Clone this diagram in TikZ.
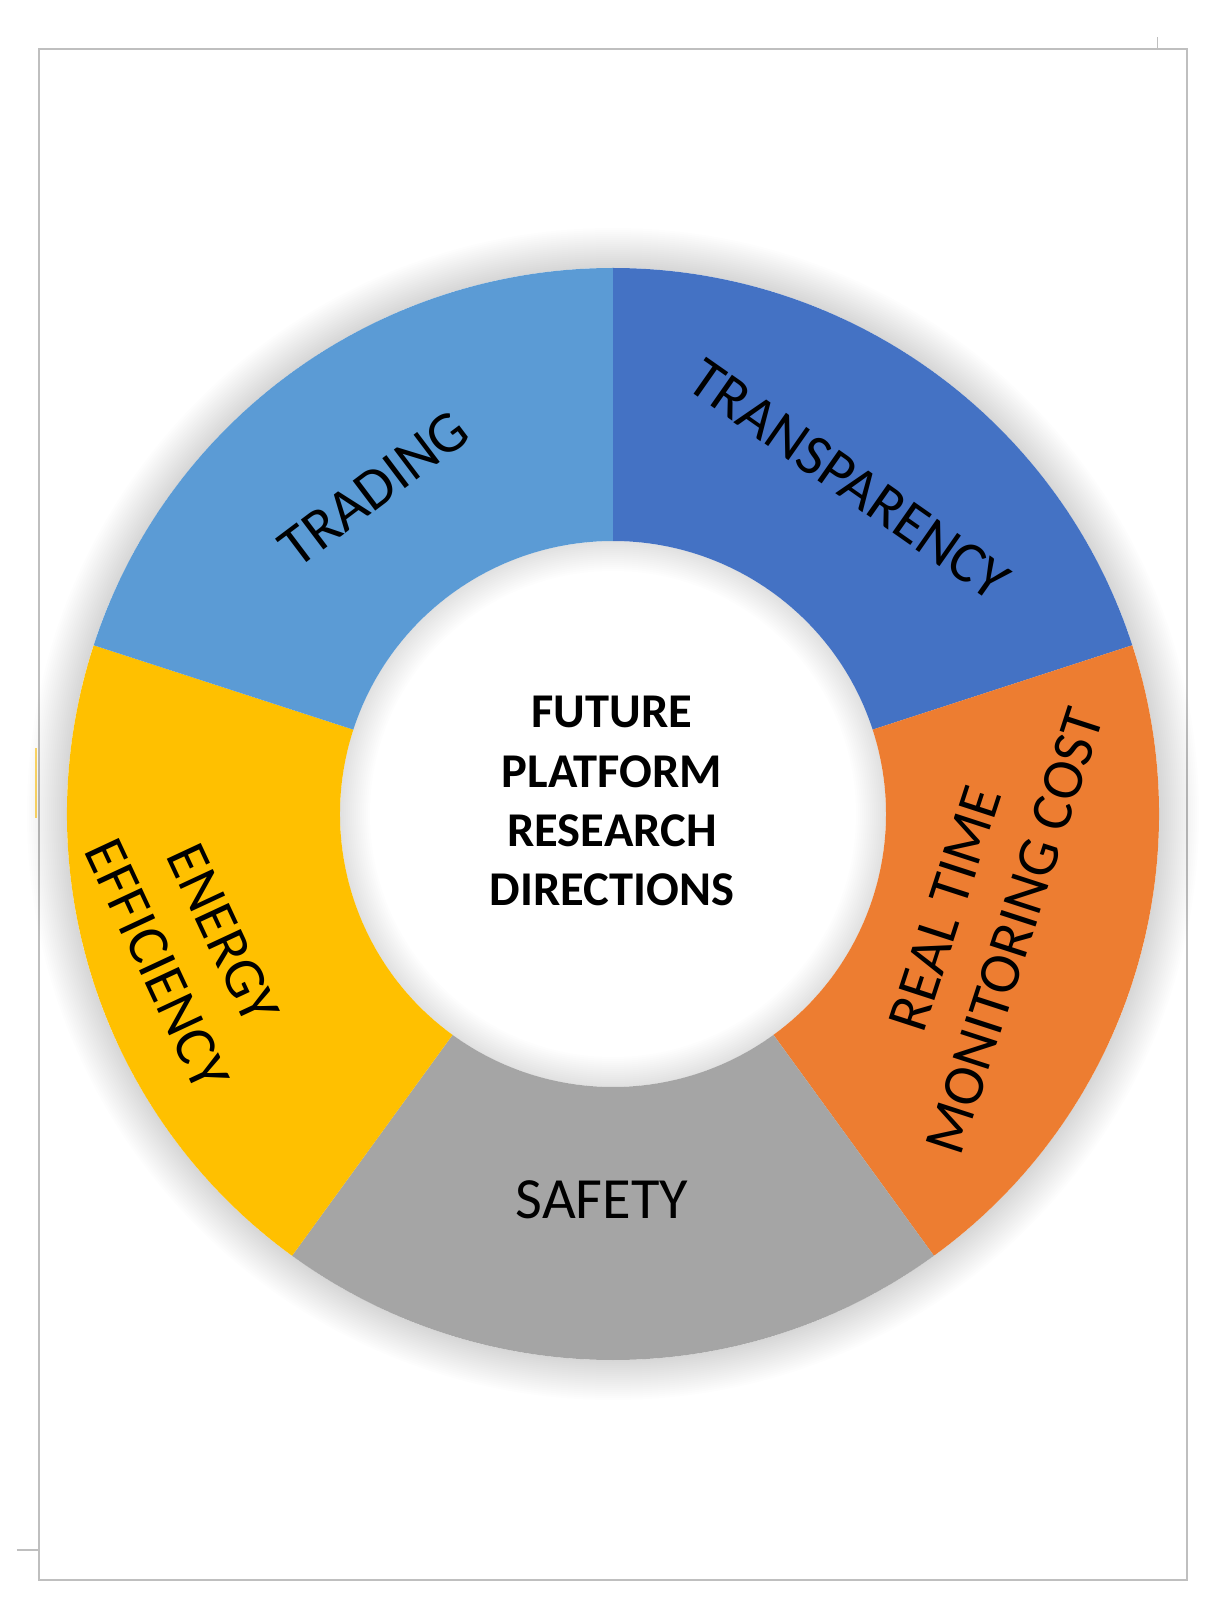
\documentclass[tikz,border=0pt]{standalone}
\usepackage{fontspec}
\setmainfont{Carlito}
\definecolor{ringblue}{HTML}{4472C4}
\definecolor{ringorange}{HTML}{ED7D31}
\definecolor{ringgray}{HTML}{A5A5A5}
\definecolor{ringyellow}{HTML}{FFC000}
\definecolor{ringsky}{HTML}{5B9BD5}
\definecolor{framegray}{HTML}{BFBFBF}

\begin{document}
\begin{tikzpicture}[x=0.01cm,y=0.01cm]
					\tikzstyle{seglabel}=[font=\fontsize{16.6}{20.8}\selectfont, align=center, inner sep=0pt]
					\tikzstyle{hub}=[font=\bfseries\fontsize{13.8}{16.8}\selectfont, align=center, inner sep=0pt]
					\tikzstyle{frame}=[draw=framegray, line width=0.02cm]
					\useasboundingbox (-613,-810) rectangle (611,814);
					\fill[white] (-613,-810) rectangle (611,814);
					\draw[frame] (-574,-766) rectangle (574,765);
					\draw[framegray, line width=0.01cm] (544,765) -- (544,777);
					\draw[framegray, line width=0.02cm] (-596,-736) -- (-574,-736);
					\draw[ringyellow, opacity=0.6, line width=0.02cm] (-576.5,66) -- (-576.5,-4);
					% soft shadow round the ring
					\foreach \d in {2,4,...,40} \fill[black, opacity=0.009, even odd rule] (0,0) circle[radius=546+\d] circle[radius=546];
					\foreach \d in {2,4,...,30} \fill[black, opacity=0.009, even odd rule] (0,0) circle[radius=273] circle[radius=273-\d];
					% ring segments
					\foreach \a/\col in {18/ringblue, -54/ringorange, -126/ringgray, 162/ringyellow, 90/ringsky}
						\fill[\col] (\a:546) arc[start angle=\a, delta angle=72, radius=546] -- (\a+72:273) arc[start angle=\a+72, delta angle=-72, radius=273] -- cycle;
					\node[hub] (hubtext) at (-1,13) {FUTURE\\PLATFORM\\RESEARCH\\DIRECTIONS};
					\node[seglabel, rotate=-35] (transparency) at (236,334) {TRANSPARENCY};
					\node[seglabel, rotate=72] (monitoring) at (367,-106) {REAL TIME\\MONITORING COST};
					\node[seglabel] (safety) at (-11,-386) {SAFETY};
					\node[seglabel, rotate=-65] (energy) at (-423,-135) {ENERGY\\EFFICIENCY};
					\node[seglabel, rotate=37] (trading) at (-239,325) {TRADING};
				\end{tikzpicture}
\end{document}
